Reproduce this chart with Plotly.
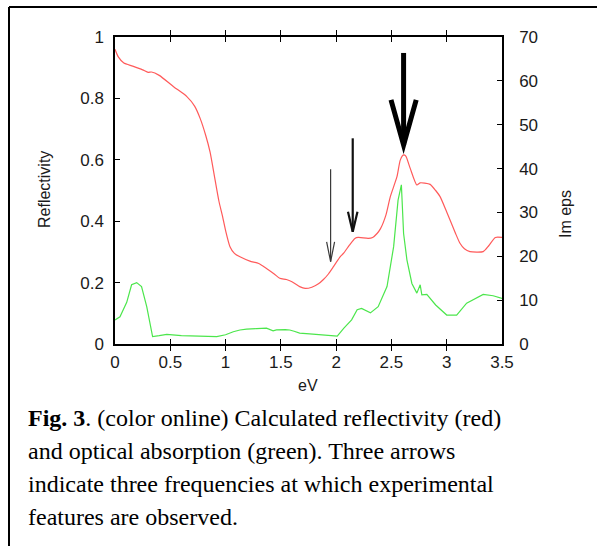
import plotly.graph_objects as go

# ---- data ----
refl_ev = [0.00, 0.03, 0.08, 0.16, 0.25, 0.30, 0.33, 0.40, 0.53, 0.65, 0.72, 0.77, 0.82, 0.86,
           0.90, 0.94, 0.97, 1.00, 1.04, 1.08, 1.13, 1.22, 1.30, 1.37, 1.44, 1.49, 1.55, 1.60,
           1.67, 1.72, 1.78, 1.84, 1.885, 1.93, 1.976, 2.00, 2.036, 2.066, 2.12, 2.17, 2.20,
           2.29, 2.33, 2.37, 2.40, 2.45, 2.49, 2.55, 2.58, 2.61, 2.63, 2.67, 2.73, 2.76, 2.80,
           2.85, 2.90, 2.94, 3.00, 3.03, 3.08, 3.12, 3.16, 3.21, 3.33, 3.38, 3.44, 3.50]
refl_val = [0.960, 0.935, 0.915, 0.905, 0.893, 0.885, 0.886, 0.875, 0.838, 0.806, 0.775, 0.735,
            0.680, 0.625, 0.545, 0.465, 0.420, 0.370, 0.317, 0.295, 0.284, 0.270, 0.262, 0.246,
            0.228, 0.214, 0.210, 0.203, 0.187, 0.181, 0.185, 0.196, 0.210, 0.228, 0.252, 0.265,
            0.284, 0.295, 0.322, 0.344, 0.347, 0.344, 0.347, 0.360, 0.375, 0.420, 0.480, 0.545,
            0.599, 0.616, 0.612, 0.572, 0.518, 0.525, 0.524, 0.520, 0.500, 0.480, 0.430, 0.404,
            0.360, 0.328, 0.310, 0.301, 0.301, 0.320, 0.347, 0.347]

abs_ev = [0.00, 0.045, 0.106, 0.15, 0.196, 0.24, 0.287, 0.34, 0.40, 0.468, 0.60, 0.77, 0.92,
          1.00, 1.07, 1.13, 1.19, 1.28, 1.37, 1.43, 1.46, 1.54, 1.58, 1.62, 1.67, 1.76, 1.90,
          1.98, 2.01, 2.07, 2.14, 2.19, 2.23, 2.31, 2.38, 2.46, 2.52, 2.56, 2.59, 2.61, 2.64,
          2.685, 2.73, 2.76, 2.775, 2.82, 2.90, 3.00, 3.09, 3.18, 3.33, 3.42, 3.50]
abs_val = [5.5, 6.2, 9.5, 13.5, 14.0, 13.1, 8.5, 1.7, 1.9, 2.2, 1.9, 1.8, 1.7,
           2.1, 2.8, 3.2, 3.4, 3.5, 3.6, 3.0, 3.2, 3.3, 3.2, 2.9, 2.5, 2.3, 2.1,
           2.0, 1.8, 3.6, 5.5, 7.8, 8.1, 7.1, 8.5, 13.1, 22.2, 32.8, 36.3, 25.2, 19.2,
           13.8, 11.6, 13.5, 11.2, 11.3, 8.9, 6.6, 6.6, 9.3, 11.3, 11.0, 10.4]

arrow_ev = [1.95, 2.15, 2.61]
arrow_top = [0.569, 0.670, 0.948]
arrow_tip = [0.268, 0.366, 0.648]

x_ticks = [0, 0.5, 1, 1.5, 2, 2.5, 3, 3.5]
y_ticks = [0, 0.2, 0.4, 0.6, 0.8, 1]
y2_ticks = [0, 10, 20, 30, 40, 50, 60, 70]

caption_lines = [
    "<b>Fig. 3</b>. (color online) Calculated reflectivity (red)",
    "and optical absorption (green). Three arrows",
    "indicate three frequencies at which experimental",
    "features are observed.",
]

# ---- styles ----
arrow_widths = [1.2, 2.2, 5.0]
arrow_colors = ["#3a3a3a", "#111111", "#000000"]
head_len = [0.065, 0.065, 0.147]   # in reflectivity units
head_hw = [0.036, 0.043, 0.114]    # in eV units

W, H = 597, 546
L, R, T, B = 115, 95, 37, 202
pw, ph = W - L - R, H - T - B
CAP_Y0, CAP_DY = 418, 33


def px(xp):
    return (xp - L) / pw


def py(yp):
    return (H - B - yp) / ph


fig = go.Figure()
fig.add_trace(go.Scatter(x=refl_ev, y=refl_val, mode="lines",
                         line=dict(color="#ff5a5a", width=1.2, shape="spline", smoothing=0.6),
                         yaxis="y"))
fig.add_trace(go.Scatter(x=abs_ev, y=abs_val, mode="lines",
                         line=dict(color="#4ce64c", width=1.2), yaxis="y2"))

shapes = []
for i in range(len(arrow_ev)):
    x0 = arrow_ev[i]
    shapes.append(dict(type="line", xref="x", yref="y", x0=x0, x1=x0,
                       y0=arrow_top[i], y1=arrow_tip[i],
                       line=dict(color=arrow_colors[i], width=arrow_widths[i])))
    path = (f"M {x0 - head_hw[i]},{arrow_tip[i] + head_len[i]} "
            f"L {x0},{arrow_tip[i]} L {x0 + head_hw[i]},{arrow_tip[i] + head_len[i]}")
    shapes.append(dict(type="path", xref="x", yref="y", path=path,
                       line=dict(color=arrow_colors[i], width=arrow_widths[i])))

# outer figure frame (top and left edges)
shapes.append(dict(type="line", xref="paper", yref="paper",
                   x0=px(9), x1=px(605), y0=py(7), y1=py(7),
                   line=dict(color="black", width=2)))
shapes.append(dict(type="line", xref="paper", yref="paper",
                   x0=px(9), x1=px(9), y0=py(7), y1=py(560),
                   line=dict(color="black", width=2)))

tickfont = dict(family="Liberation Sans, Arial, sans-serif", size=17, color="#1a1a1a")
axis_common = dict(showgrid=False, zeroline=False, showline=True, linecolor="black",
                   linewidth=1.5, ticks="inside", ticklen=5, tickcolor="black",
                   tickwidth=1, tickfont=tickfont)
title_font = dict(family="Liberation Sans, Arial", size=16, color="#1a1a1a")
cap_font = dict(family="Liberation Serif, Times New Roman, serif", size=24, color="black")

annotations = [
    dict(text="eV", xref="paper", yref="paper", x=px(308), y=py(385),
         xanchor="center", yanchor="middle", showarrow=False, font=title_font),
    dict(text="Reflectivity", xref="paper", yref="paper", x=px(44), y=py(190),
         xanchor="center", yanchor="middle", textangle=-90, showarrow=False,
         font=title_font),
    dict(text="Im eps", xref="paper", yref="paper", x=px(565), y=py(214),
         xanchor="center", yanchor="middle", textangle=-90, showarrow=False,
         font=title_font),
]
for k, line in enumerate(caption_lines):
    annotations.append(dict(text=line, xref="paper", yref="paper", x=px(26),
                            y=py(CAP_Y0 + k * CAP_DY), xanchor="left", yanchor="middle",
                            align="left", showarrow=False, font=cap_font))

fig.update_layout(
    width=W, height=H,
    margin=dict(l=L, r=R, t=T, b=B, pad=0),
    paper_bgcolor="white", plot_bgcolor="white",
    showlegend=False,
    shapes=shapes,
    xaxis=dict(range=[0, 3.5], tickvals=x_ticks, mirror="allticks",
               ticklabelstandoff=2, **axis_common),
    yaxis=dict(range=[0, 1], tickvals=y_ticks, mirror=False,
               ticklabelstandoff=6, **axis_common),
    yaxis2=dict(range=[0, 70], tickvals=y2_ticks, overlaying="y", side="right",
                ticklabelstandoff=12, **axis_common),
    annotations=annotations,
)

fig.write_html("out.html")
